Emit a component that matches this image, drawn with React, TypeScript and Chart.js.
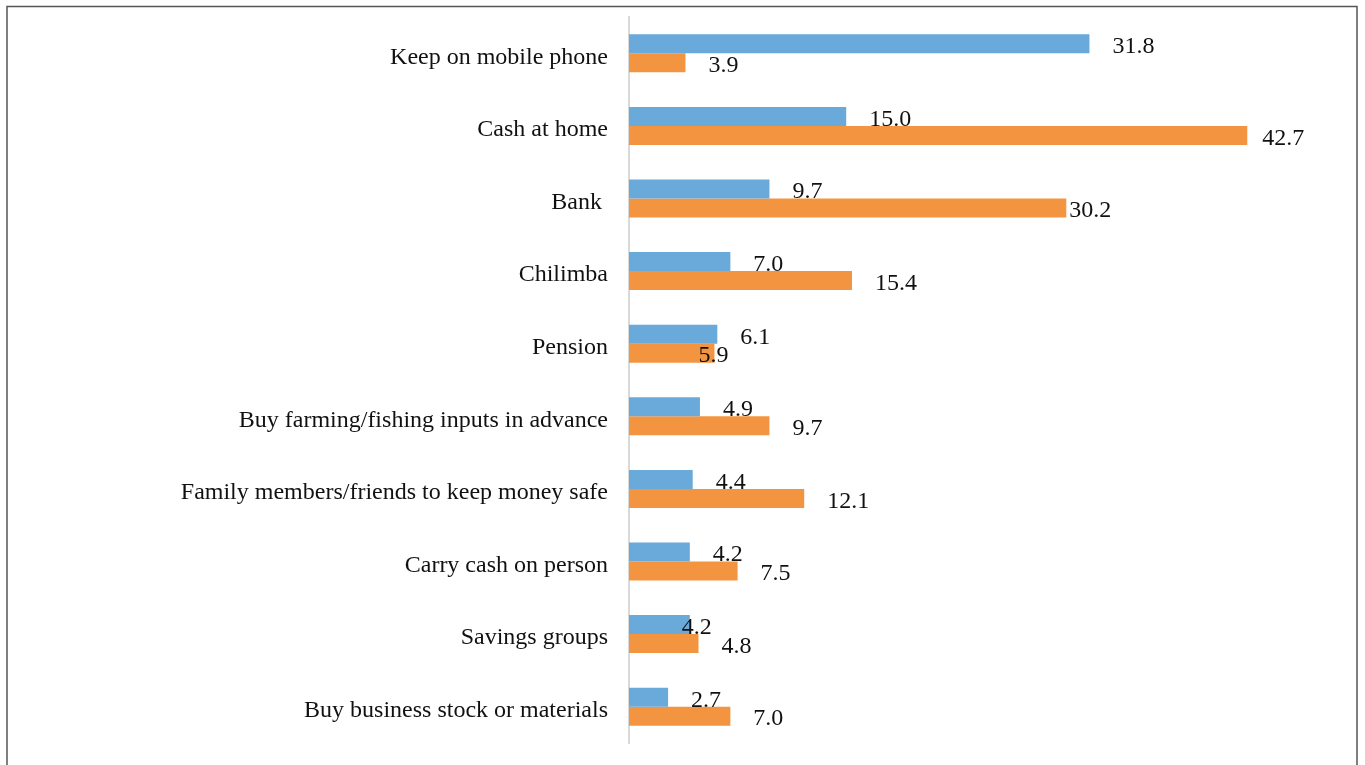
import React, { useEffect, useRef } from "react";
import { Chart, registerables } from "chart.js";

Chart.register(...registerables);

const categories = [
  "Keep on mobile phone",
  "Cash at home",
  "Bank ",
  "Chilimba",
  "Pension",
  "Buy farming/fishing inputs in advance",
  "Family members/friends to keep money safe",
  "Carry cash on person",
  "Savings groups",
  "Buy business stock or materials",
];

const seriesA = [31.8, 15.0, 9.7, 7.0, 6.1, 4.9, 4.4, 4.2, 4.2, 2.7];
const seriesB = [3.9, 42.7, 30.2, 15.4, 5.9, 9.7, 12.1, 7.5, 4.8, 7.0];

const xMax = 50;

const FONT = "'Liberation Serif', 'Times New Roman', serif";

// label nudges (dataset index -> point index -> px offset from default)
const labelNudge: Record<string, number> = {
  "0-8": -31,
  "1-1": -8,
  "1-2": -20,
  "1-4": -39,
};

const labelPlugin = {
  id: "valueLabels",
  afterDatasetsDraw(chart: any) {
    const ctx = chart.ctx;
    ctx.save();
    ctx.font = `24px ${FONT}`;
    ctx.fillStyle = "#111";
    ctx.textAlign = "left";
    ctx.textBaseline = "middle";
    chart.data.datasets.forEach((ds: any, di: number) => {
      const meta = chart.getDatasetMeta(di);
      meta.data.forEach((el: any, i: number) => {
        const v = ds.data[i] as number;
        const dx = 23 + (labelNudge[`${di}-${i}`] || 0);
        ctx.fillText(v.toFixed(1), el.x + dx, el.y + 3);
      });
    });
    ctx.restore();
  },
};

const framePlugin = {
  id: "frame",
  afterDraw(chart: any) {
    const ctx = chart.ctx;
    ctx.save();
    ctx.strokeStyle = "#555";
    ctx.lineWidth = 1.5;
    ctx.beginPath();
    ctx.moveTo(7, 770);
    ctx.lineTo(7, 6.5);
    ctx.lineTo(1357, 6.5);
    ctx.lineTo(1357, 770);
    ctx.stroke();
    ctx.restore();
  },
};

export default function App() {
  const ref = useRef<HTMLCanvasElement | null>(null);

  useEffect(() => {
    document.body.style.margin = "0";
    if (!ref.current) return;
    const chart = new Chart(ref.current, {
      type: "bar",
      data: {
        labels: categories,
        datasets: [
          {
            label: "A",
            data: seriesA,
            backgroundColor: "#6aaadb",
            borderWidth: 0,
            categoryPercentage: 0.523,
            barPercentage: 1,
          },
          {
            label: "B",
            data: seriesB,
            backgroundColor: "#f39440",
            borderWidth: 0,
            categoryPercentage: 0.523,
            barPercentage: 1,
          },
        ],
      },
      options: {
        indexAxis: "y",
        responsive: false,
        animation: false,
        layout: { padding: { top: 17, bottom: 22, right: 12, left: 0 } },
        plugins: {
          legend: { display: false },
          tooltip: { enabled: false },
        },
        scales: {
          x: {
            display: false,
            min: 0,
            max: xMax,
          },
          y: {
            grid: { display: false, drawTicks: false },
            border: { display: true, color: "#d9d9d9", width: 2 },
            ticks: {
              color: "#111",
              padding: 21,
              labelOffset: 4,
              font: { family: FONT, size: 24 },
            },
            afterFit: (s: any) => {
              s.width = 629;
              s.paddingTop = 0;
              s.paddingBottom = 0;
            },
          },
        },
      },
      plugins: [labelPlugin, framePlugin],
    });
    return () => chart.destroy();
  }, []);

  return (
    <div style={{ width: 1365, height: 765 }}>
      <canvas ref={ref} width={1365} height={765} />
    </div>
  );
}
